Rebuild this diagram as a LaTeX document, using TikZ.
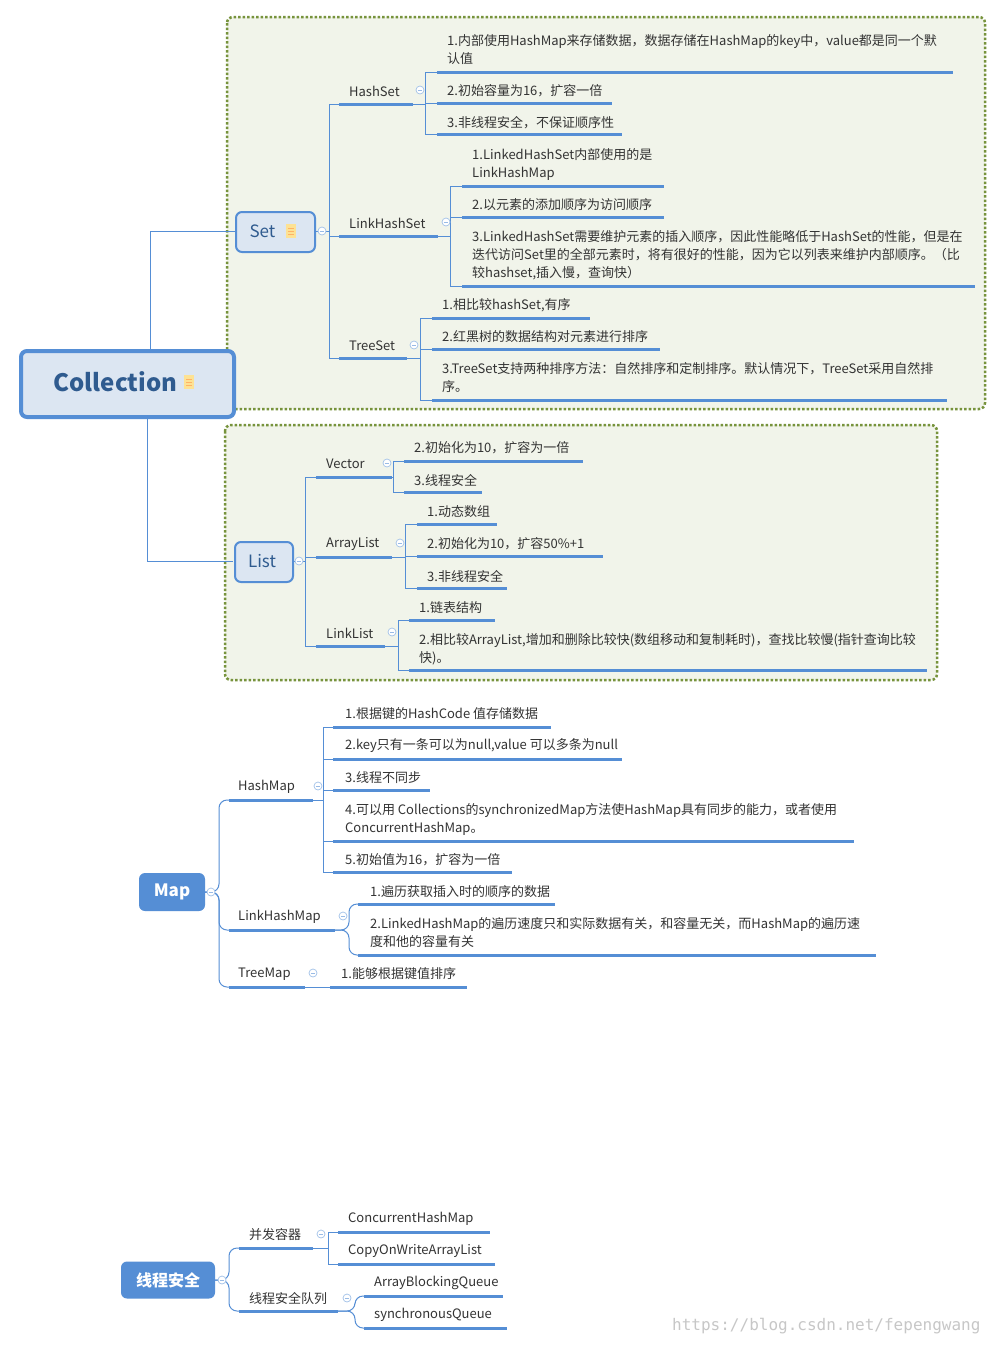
\documentclass[tikz,border=0pt]{standalone}
\usepackage{fontspec}
\setmainfont{Noto Sans CJK SC}
\setmonofont{DejaVu Sans Mono}
\usetikzlibrary{calc}
\definecolor{lb}{HTML}{558ED5}
\definecolor{boxfill}{HTML}{F1F4EA}
\definecolor{boxline}{HTML}{77933C}
\definecolor{nodefill}{HTML}{DCE6F2}
\definecolor{tx}{HTML}{333333}
\definecolor{ctitle}{HTML}{2F5B8F}
\tikzset{
 txt/.style={inner sep=0pt,font=\fontsize{13}{18}\selectfont,text=tx,align=left,anchor=west},
 ul/.style={draw=lb,line width=3pt},
 conn/.style={draw=lb,line width=1pt},
 grp/.style={draw=boxline,line width=2.5pt,dotted,fill=boxfill,rounded corners=6pt},
 mainbox/.style={draw=lb,fill=nodefill,rounded corners=6pt},
 solidbox/.style={fill=lb,rounded corners=6pt,text=white,font=\bfseries},
 fold/.style={circle,draw=lb!55,fill=white,line width=0.7pt,minimum size=8pt,inner sep=0pt,
   path picture={\draw[lb!60,line width=0.7pt] ([xshift=-2.2pt]path picture bounding box.center)--([xshift=2.2pt]path picture bounding box.center);}},
}
\newcommand\leaf[7]{\node[txt] (#1) at (#2,#3) {#7};
 \draw[ul] (#5,#4) coordinate (#1-s) -- (#6,#4) coordinate (#1-e);}
\newcommand\br[3]{\draw[conn] (#1-e) -- (#2,0 |- #1-e) |- (#3-s);}
\newcommand\brr[3]{\draw[conn,rounded corners=8pt] (#1-e) -- (#2,0 |- #1-e) |- (#3-s);}
\newcommand\noteicon[2]{\fill[yellow!50!orange!40] (#1,#2) rectangle ++(10,14);
 \foreach \k in {4,7,10}{\draw[orange!60,line width=0.8pt] (#1+2,#2+\k) -- ++(6,0);}}
\begin{document}
\begin{tikzpicture}[x=1pt,y=-1pt]
\useasboundingbox (0,0) rectangle (1003,1345);
\fill[white] (0,0) rectangle (1003,1345);
% groups
\draw[grp] (227,17) rectangle (985,409);
\draw[grp] (225,425) rectangle (937,680);
% Collection
\draw[conn] (150,350) -- (150,231) -- (235,231);
\draw[conn] (147,414) -- (147,561) -- (233,561);
\node[mainbox,line width=4pt,minimum width=213pt,minimum height=66pt,anchor=north west] (coll) at (19,349) {};
\node[font=\bfseries\fontsize{24}{28}\selectfont,text=ctitle,anchor=west] at (50,382) {Collection};
\noteicon{184}{375}
% Set
\node[mainbox,line width=2pt,minimum width=79pt,minimum height=40pt,anchor=north west] (set) at (235,211) {};
\node[font=\fontsize{17}{20}\selectfont,text=ctitle,anchor=west] at (246,231) {Set};
\noteicon{286}{224}
\coordinate (set-e) at (315,231);
\leaf{hs}{349}{91}{104}{339}{413}{HashSet}
\leaf{lhs}{349}{223}{236}{339}{438}{LinkHashSet}
\leaf{ts}{349}{346}{358}{339}{407}{TreeSet}
\br{set}{329}{hs}\br{set}{329}{lhs}\br{set}{329}{ts}
\node[fold] at (322,231) {};
\leaf{hs1}{447}{50}{72}{437}{953}{1.内部使用HashMap来存储数据，数据存储在HashMap的key中，value都是同一个默\\认值}
\leaf{hs2}{447}{91}{103}{437}{612}{2.初始容量为16，扩容一倍}
\leaf{hs3}{447}{123}{134}{437}{622}{3.非线程安全，不保证顺序性}
\br{hs}{425}{hs1}\br{hs}{425}{hs2}\br{hs}{425}{hs3}
\node[fold] at (420,90) {};
\leaf{l1}{472}{164}{186}{462}{664}{1.LinkedHashSet内部使用的是\\LinkHashMap}
\leaf{l2}{472}{205}{217}{462}{664}{2.以元素的添加顺序为访问顺序}
\leaf{l3}{472}{255}{286}{462}{975}{3.LinkedHashSet需要维护元素的插入顺序，因此性能略低于HashSet的性能，但是在\\迭代访问Set里的全部元素时，将有很好的性能，因为它以列表来维护内部顺序。（比\\较hashset,插入慢，查询快）}
\br{lhs}{450}{l1}\br{lhs}{450}{l2}\br{lhs}{450}{l3}
\node[fold] at (446,222) {};
\leaf{t1}{442}{305}{318}{432}{590}{1.相比较hashSet,有序}
\leaf{t2}{442}{337}{349}{432}{660}{2.红黑树的数据结构对元素进行排序}
\leaf{t3}{442}{378}{400}{432}{947}{3.TreeSet支持两种排序方法：自然排序和定制排序。默认情况下，TreeSet采用自然排\\序。}
\br{ts}{420}{t1}\br{ts}{420}{t2}\br{ts}{420}{t3}
\node[fold] at (414,345) {};
% List
\node[mainbox,line width=2pt,minimum width=58pt,minimum height=40pt,anchor=north west] (list) at (234,541) {};
\node[font=\fontsize{17}{20}\selectfont,text=ctitle] at (262,561) {List};
\coordinate (list-e) at (292,561);
\leaf{vec}{326}{464}{477}{316}{392}{Vector}
\leaf{al}{326}{544}{557}{316}{392}{ArrayList}
\leaf{ll}{326}{633}{646}{316}{385}{LinkList}
\br{list}{305}{vec}\br{list}{305}{al}\br{list}{305}{ll}
\node[fold] at (299,561) {};
\leaf{v1}{414}{448}{461}{404}{583}{2.初始化为10，扩容为一倍}
\leaf{v2}{414}{480}{492}{404}{482}{3.线程安全}
\br{vec}{393}{v1}\br{vec}{393}{v2}
\node[fold] at (387,463) {};
\leaf{a1}{427}{512}{524}{417}{497}{1.动态数组}
\leaf{a2}{427}{544}{556}{417}{603}{2.初始化为10，扩容50\%+1}
\leaf{a3}{427}{576}{588}{417}{507}{3.非线程安全}
\br{al}{405}{a1}\br{al}{405}{a2}\br{al}{405}{a3}
\node[fold] at (400,543) {};
\leaf{k1}{419}{608}{620}{409}{495}{1.链表结构}
\leaf{k2}{419}{649}{670}{409}{927}{2.相比较ArrayList,增加和删除比较快(数组移动和复制耗时)，查找比较慢(指针查询比较\\快)。}
\br{ll}{398}{k1}\br{ll}{398}{k2}
\node[fold] at (392,632) {};
% Map
\node[solidbox,minimum width=66pt,minimum height=38pt,font=\bfseries\fontsize{17}{20}\selectfont] (map) at (172,892) {Map};
\coordinate (map-e) at (205,892);
\leaf{hm}{238}{787}{800}{229}{313}{HashMap}
\leaf{lhm}{238}{917}{930}{229}{335}{LinkHashMap}
\leaf{tm}{238}{974}{987}{229}{305}{TreeMap}
\brr{map}{219}{hm}\brr{map}{219}{lhm}\brr{map}{219}{tm}
\node[fold] at (211,892) {};
\leaf{h1}{345}{714}{727}{333}{551}{1.根据键的HashCode 值存储数据}
\leaf{h2}{345}{746}{759}{333}{622}{2.key只有一条可以为null,value 可以多条为null}
\leaf{h3}{345}{778}{790}{333}{430}{3.线程不同步}
\leaf{h4}{345}{819}{841}{333}{854}{4.可以用 Collections的synchronizedMap方法使HashMap具有同步的能力，或者使用\\ConcurrentHashMap。}
\leaf{h5}{345}{860}{872}{333}{512}{5.初始值为16，扩容为一倍}
\br{hm}{323}{h1}\br{hm}{323}{h2}\br{hm}{323}{h3}\br{hm}{323}{h4}\br{hm}{323}{h5}
\node[fold] at (318,786) {};
\leaf{m1}{370}{892}{904}{358}{555}{1.遍历获取插入时的顺序的数据}
\leaf{m2}{370}{933}{955}{358}{876}{2.LinkedHashMap的遍历速度只和实际数据有关，和容量无关，而HashMap的遍历速\\度和他的容量有关}
\brr{lhm}{349}{m1}\brr{lhm}{349}{m2}
\node[fold] at (343,916) {};
\leaf{t1m}{341}{974}{987}{330}{467}{1.能够根据键值排序}
\draw[conn] (tm-e) -- (t1m-s);
\node[fold] at (313,973) {};
% Thread safety
\node[solidbox,minimum width=94pt,minimum height=37pt,font=\bfseries\fontsize{16}{20}\selectfont] (safe) at (168,1280) {线程安全};
\coordinate (safe-e) at (215,1280);
\leaf{bf}{249}{1235}{1248}{239}{313}{并发容器}
\leaf{aq}{249}{1299}{1311}{239}{338}{线程安全队列}
\brr{safe}{229}{bf}\brr{safe}{229}{aq}
\node[fold] at (222,1280) {};
\leaf{b1}{348}{1219}{1232}{338}{490}{ConcurrentHashMap}
\leaf{b2}{348}{1251}{1264}{338}{495}{CopyOnWriteArrayList}
\br{bf}{328}{b1}\br{bf}{328}{b2}
\node[fold] at (321,1234) {};
\leaf{q1}{374}{1283}{1296}{364}{503}{ArrayBlockingQueue}
\leaf{q2}{374}{1315}{1328}{364}{507}{synchronousQueue}
\brr{aq}{355}{q1}\brr{aq}{355}{q2}
\node[fold] at (347,1298) {};
\node[anchor=west,text=black!22,font=\ttfamily\fontsize{16}{18}\selectfont,inner sep=0pt] (wm) at (672,1326) {https://blog.csdn.net/fepengwang};
\end{tikzpicture}
\end{document}
